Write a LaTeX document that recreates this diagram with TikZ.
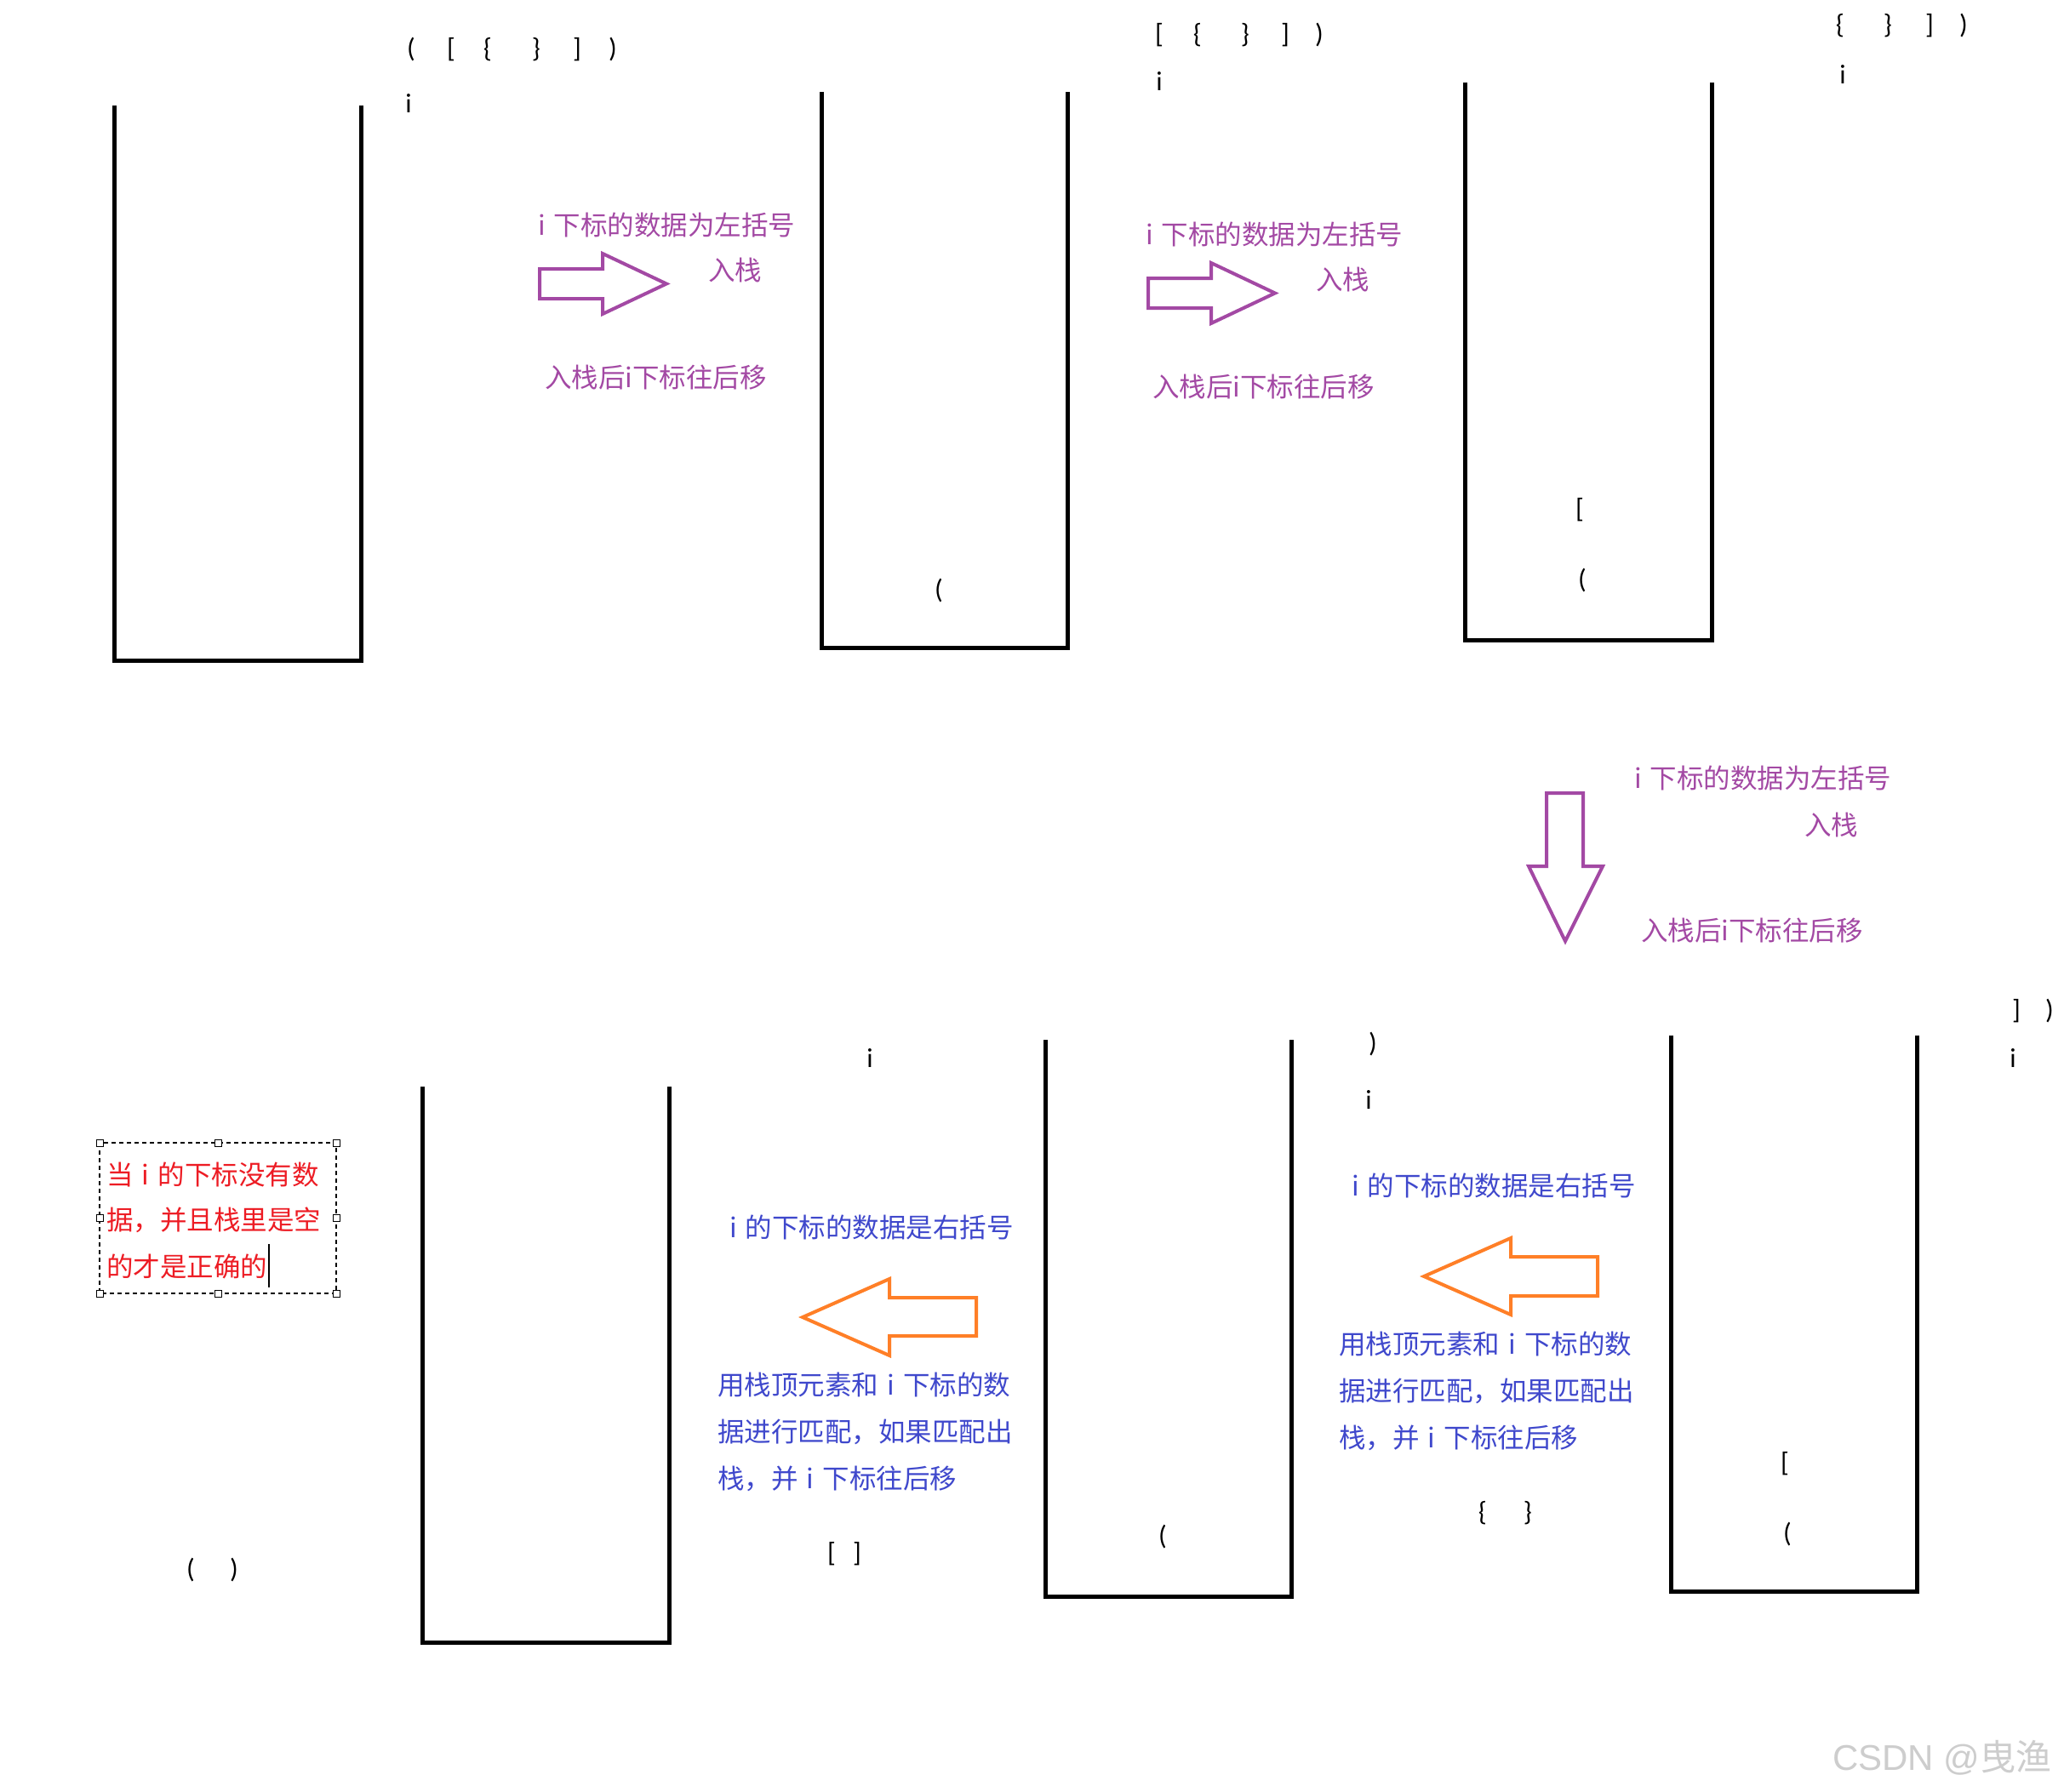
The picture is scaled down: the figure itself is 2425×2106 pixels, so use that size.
\documentclass[tikz,border=0pt]{standalone}
\usepackage{fontspec}
\setmainfont{Carlito}
\newfontfamily\cjk{Noto Sans CJK SC}
\newfontfamily\wmlatin{Liberation Sans}
\definecolor{ppurple}{RGB}{163,73,164}
\definecolor{pblue}{RGB}{63,72,204}
\definecolor{porange}{RGB}{255,127,39}
\definecolor{pred}{RGB}{237,28,36}
\definecolor{wmgray}{RGB}{205,205,205}
\newcommand\gsp{\hspace{0.32em}}
\begin{document}
\begin{tikzpicture}[x=1pt,y=-1pt,
  stackbox/.style={line width=5pt,black,line join=miter},
  br/.style={font=\fontsize{32}{32}\selectfont,inner sep=0pt,anchor=center},
  ptext/.style={text=ppurple,font=\cjk\fontsize{31.5}{31.5}\selectfont,inner sep=0pt,anchor=west},
  btext/.style={text=pblue,font=\cjk\fontsize{31.5}{31.5}\selectfont,inner sep=0pt,anchor=west},
  rtext/.style={text=pred,font=\cjk\fontsize{31.5}{31.5}\selectfont,inner sep=0pt,anchor=west},
  parrow/.style={draw=ppurple,line width=4pt,line join=miter},
  oarrow/.style={draw=porange,line width=4pt,line join=miter},
  handle/.style={draw=black,fill=white,line width=1pt,minimum size=8pt,inner sep=0pt,rectangle}
]
\useasboundingbox (0,0) rectangle (2425,2106);
\fill[white] (0,0) rectangle (2425,2106);

% stacks
\draw[stackbox] (134,124) -- (134,776) -- (424,776) -- (424,124);
\draw[stackbox] (965,108) -- (965,761) -- (1254,761) -- (1254,108);
\draw[stackbox] (1721,97) -- (1721,752) -- (2011,752) -- (2011,97);
\draw[stackbox] (1963,1217) -- (1963,1870) -- (2252,1870) -- (2252,1217);
\draw[stackbox] (1228,1222) -- (1228,1876) -- (1517,1876) -- (1517,1222);
\draw[stackbox] (496,1277) -- (496,1930) -- (786,1930) -- (786,1277);

% row 1 sequence
\node[br] (a1) at (483,58) {(};
\node[br] (a2) at (530,58) {[};
\node[br] (a3) at (573,58) {\{};
\node[br] (a4) at (630,58) {\}};
\node[br] (a5) at (678,58) {]};
\node[br] (a6) at (720,58) {)};
\node[br] (ai) at (480,121) {i};
% row 2 sequence
\node[br] (b2) at (1362,41) {[};
\node[br] (b3) at (1407,41) {\{};
\node[br] (b4) at (1463,41) {\}};
\node[br] (b5) at (1510,41) {]};
\node[br] (b6) at (1550,41) {)};
\node[br] (bi) at (1362,95) {i};
% row 3 sequence
\node[br] (c3) at (2162,30) {\{};
\node[br] (c4) at (2218,30) {\}};
\node[br] (c5) at (2267,30) {]};
\node[br] (c6) at (2307,30) {)};
\node[br] (ci) at (2165,87) {i};

% stack contents
\node[br] (s2a) at (1103,694) {(};
\node[br] (s3b) at (1856,599) {[};
\node[br] (s3a) at (1859,682) {(};
\node[br] (s4b) at (2097,1720) {[};
\node[br] (s4a) at (2100,1803) {(};
\node[br] (s5a) at (1366,1806) {(};

% bottom row texts
\node[br] (d5) at (2369,1188) {]};
\node[br] (d6) at (2408,1188) {)};
\node[br] (di) at (2365,1243) {i};
\node[br] (e6) at (1613,1227) {)};
\node[br] (ei) at (1608,1292) {i};
\node[br] (fi) at (1022,1243) {i};
\node[br] (m1) at (1742,1778) {\{};
\node[br] (m2) at (1795,1778) {\}};
\node[br] (n1) at (977,1826) {[};
\node[br] (n2) at (1007,1826) {]};
\node[br] (o1) at (224,1845) {(};
\node[br] (o2) at (275,1845) {)};

% purple groups
\node[ptext] (p1a) at (632,265) {i\gsp 下标的数据为左括号};
\node[ptext] (p1b) at (832,318) {入栈};
\node[ptext] (p1c) at (640,444) {入栈后i下标往后移};
\draw[parrow] (634,316) -- (708,316) -- (708,298) -- (783,333.5) -- (708,369) -- (708,351) -- (634,351) -- cycle;

\node[ptext] (p2a) at (1346,276) {i\gsp 下标的数据为左括号};
\node[ptext] (p2b) at (1546,329) {入栈};
\node[ptext] (p2c) at (1354,455) {入栈后i下标往后移};
\draw[parrow] (1349,327) -- (1423,327) -- (1423,309) -- (1498,344.5) -- (1423,380) -- (1423,362) -- (1349,362) -- cycle;

\node[ptext] (p3a) at (1920,915) {i\gsp 下标的数据为左括号};
\node[ptext] (p3b) at (2120,970) {入栈};
\node[ptext] (p3c) at (1928,1094) {入栈后i下标往后移};
\draw[parrow] (1817,932) -- (1860,932) -- (1860,1018) -- (1883,1018) -- (1839,1106) -- (1796,1018) -- (1817,1018) -- cycle;

% blue groups
\node[btext] (q1a) at (857,1442) {i\gsp 的下标的数据是右括号};
\node[btext] (q1b) at (843,1628) {用栈顶元素和\gsp i\gsp 下标的数};
\node[btext] (q1c) at (843,1683) {据进行匹配，如果匹配出};
\node[btext] (q1d) at (843,1738) {栈，并\gsp i\gsp 下标往后移};
\draw[oarrow] (1147,1525) -- (1045,1525) -- (1045,1503) -- (943,1548) -- (1045,1593) -- (1045,1570) -- (1147,1570) -- cycle;

\node[btext] (q2a) at (1588,1393) {i\gsp 的下标的数据是右括号};
\node[btext] (q2b) at (1573,1580) {用栈顶元素和\gsp i\gsp 下标的数};
\node[btext] (q2c) at (1573,1635) {据进行匹配，如果匹配出};
\node[btext] (q2d) at (1573,1690) {栈，并\gsp i\gsp 下标往后移};
\draw[oarrow] (1877,1477) -- (1775,1477) -- (1775,1455) -- (1673,1500) -- (1775,1545) -- (1775,1523) -- (1877,1523) -- cycle;

% red text box
\draw[black,line width=1.5pt,dash pattern=on 5pt off 4pt] (117,1343) rectangle (395,1520);
\node[rtext] (r1) at (125,1380) {当\gsp i\gsp 的下标没有数};
\node[rtext] (r2) at (125,1434) {据，并且栈里是空};
\node[rtext] (r3) at (125,1488) {的才是正确的};
\coordinate (cur1) at (316,1462);
\coordinate (cur2) at (316,1513);
\draw[black,line width=1.5pt] (cur1) -- (cur2);
\node[handle] (h1) at (117,1343) {};
\node[handle] (h2) at (256,1343) {};
\node[handle] (h3) at (395,1343) {};
\node[handle] (h4) at (117,1431) {};
\node[handle] (h5) at (395,1431) {};
\node[handle] (h6) at (117,1520) {};
\node[handle] (h7) at (256,1520) {};
\node[handle] (h8) at (395,1520) {};

% watermark
\node[anchor=west,inner sep=0pt,text=wmgray,font=\fontsize{42}{42}\selectfont] (wm) at (2153,2066) {\wmlatin CSDN @\cjk 曳渔};
\end{tikzpicture}
\end{document}
